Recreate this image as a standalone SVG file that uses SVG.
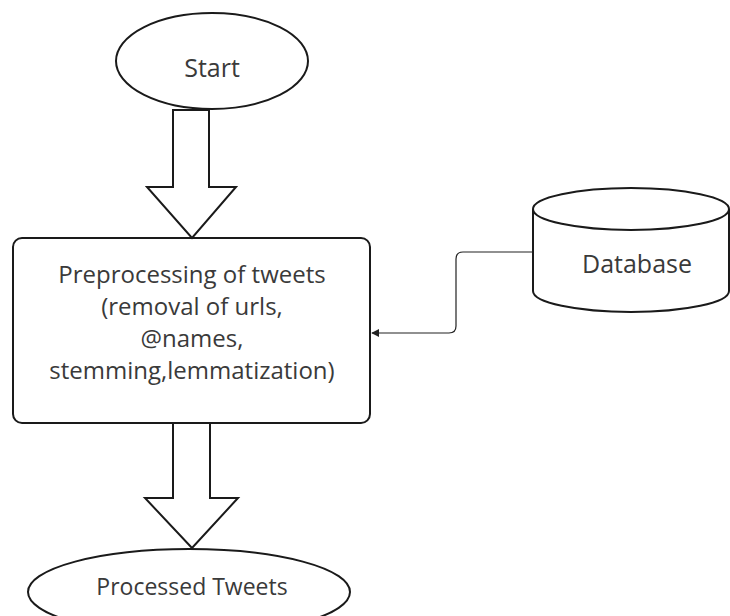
<svg xmlns="http://www.w3.org/2000/svg" width="730" height="616" viewBox="0 0 730 616">
  <style>
    .shape { fill: #ffffff; stroke: #1a1a1a; stroke-width: 2; }
    .label { font-family: "Open Sans", "Noto Sans", "DejaVu Sans", sans-serif; font-size: 25px; fill: #3a3a3a; text-anchor: middle; }
    .body { font-size: 24px; }
    .small { font-size: 23px; }
    .link { fill: none; stroke: #222222; stroke-width: 1.2; }
  </style>
  <defs>
    <marker id="head" viewBox="0 0 10 10" refX="9" refY="5" markerWidth="8" markerHeight="8" markerUnits="userSpaceOnUse" orient="auto">
      <path d="M0,0 L10,5 L0,10 Z" fill="#222222"/>
    </marker>
  </defs>
  <rect width="730" height="616" fill="#ffffff"/>

  <!-- flow nodes -->
  <g id="start">
    <ellipse class="shape" cx="212" cy="61" rx="96" ry="48"/>
    <text class="label" x="212" y="77">Start</text>
  </g>

  <g id="preprocess">
    <rect class="shape" x="13" y="238" width="357" height="185" rx="9" ry="9"/>
    <text class="label body" x="192" y="283">Preprocessing of tweets</text>
    <text class="label body" x="192" y="315">(removal of urls,</text>
    <text class="label body" x="192" y="347">@names,</text>
    <text class="label body" x="192" y="379">stemming,lemmatization)</text>
  </g>

  <g id="database">
    <path class="shape" d="M533,209 L533,291 A98,21 0 0 0 729,291 L729,209"/>
    <ellipse class="shape" cx="631" cy="209" rx="98" ry="21"/>
    <text class="label" x="637" y="273">Database</text>
  </g>

  <g id="processed">
    <ellipse class="shape" cx="189" cy="592" rx="161" ry="43"/>
    <text class="label small" x="192" y="595">Processed Tweets</text>
  </g>

  <!-- connectors -->
  <g id="connectors">
    <path class="shape" d="M173,110 L209,110 L209,187 L236,187 L192,238 L147,187 L173,187 Z"/>
    <path class="shape" d="M173,423 L210,423 L210,498 L238,498 L192,548 L145,498 L173,498 Z"/>
    <path class="link" d="M533,252 L463,252 Q456,252 456,259 L456,326 Q456,333 449,333 L372,333" marker-end="url(#head)"/>
  </g>
</svg>
